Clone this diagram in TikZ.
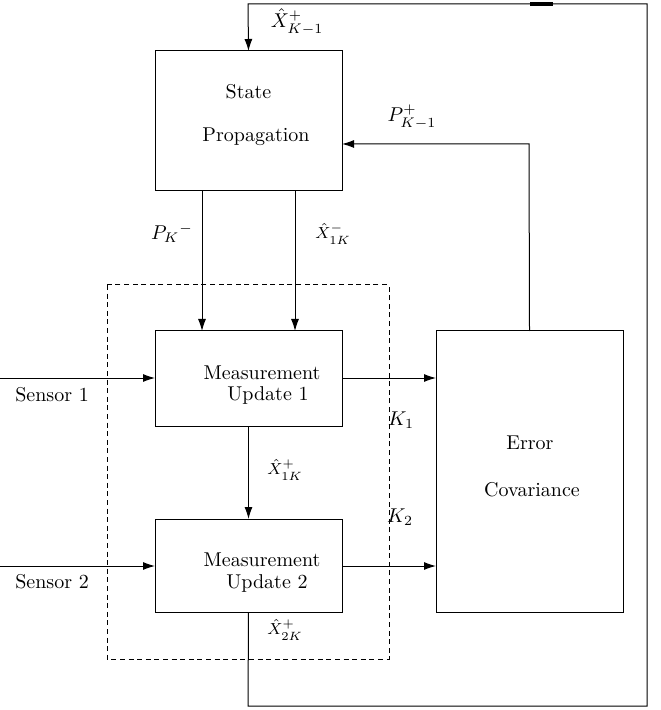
\documentclass[tikz,border=0pt]{standalone}
\usetikzlibrary{arrows.meta}
\begin{document}
\begin{tikzpicture}[x=0.5pt,y=-0.5pt,
  blk/.style={draw,line width=0.5pt,inner sep=0pt,outer sep=0pt,rectangle},
  arr/.style={line width=0.5pt,-{Latex[length=6pt,width=4pt]}},
  ln/.style={line width=0.5pt},
  lbl/.style={inner sep=0pt},
  small/.style={inner sep=0pt,font=\footnotesize}]
\useasboundingbox (0,0) rectangle (660,710);
% boxes
\node[blk,minimum width=93.5pt,minimum height=70pt] (SP) at (248.5,121) {};
\node[blk,minimum width=93.5pt,minimum height=47.5pt] (MU1) at (248.5,378.5) {};
\node[blk,minimum width=93.5pt,minimum height=46.5pt] (MU2) at (248.5,565.5) {};
\node[blk,minimum width=93.5pt,minimum height=140.5pt] (EC) at (529.5,471.5) {};
% dashed group
\draw[line width=0.5pt,dash pattern=on 2.5pt off 1.8pt] (107,285) rectangle (389,659);
% box texts
\node[lbl] (t1) at (248.5,92) {State};
\node[lbl] (t2) at (256,137) {Propagation};
\node[lbl] (t3) at (262,373) {Measurement};
\node[lbl] (t4) at (268,395) {Update 1};
\node[lbl] (t5) at (262,560) {Measurement};
\node[lbl] (t6) at (267,583) {Update 2};
\node[lbl] (t7) at (530,443) {Error};
\node[lbl] (t8) at (532,490) {Covariance};
% coordinates
\coordinate (s1) at (0,378);
\coordinate (s2) at (0,566);
\coordinate (bl) at (248,706);
\coordinate (br) at (647,706);
\coordinate (tr) at (647,4);
\coordinate (tl) at (248,4);
\coordinate (pc) at (529,144);
\coordinate (ta) at (530,4);
\coordinate (tb) at (553,4);
% connectors
\draw[arr] (s1) -- (s1 -| MU1.west);
\draw[arr] (s2) -- (s2 -| MU2.west);
\draw[arr] (MU1.east |- s1) -- (EC.west |- s1);
\draw[arr] (MU2.east |- s2) -- (EC.west |- s2);
\draw[arr] ([xshift=-23.25pt]SP.south) -- ([xshift=-23.25pt]MU1.north);
\draw[arr] ([xshift=23.25pt]SP.south) -- ([xshift=23.25pt]MU1.north);
\draw[arr] (MU1.south) -- (MU2.north);
\draw[arr] (MU2.south) -- (bl) -- (br) -- (tr) -- (tl) -- (SP.north);
\draw[arr] (EC.north) -- (pc) -- (pc -| SP.east);
\draw[line width=1.6pt] (ta) -- (tb);
% labels
\node[lbl] (lx) at (297,22) {$\hat{X}^{+}_{K-1}$};
\node[lbl] (lp) at (412,117) {$P^{+}_{K-1}$};
\node[lbl] (lpk) at (172,233) {$P_K{}^{-}$};
\node[small] (lx1) at (333,234) {$\hat{X}^{-}_{1K}$};
\node[small] (lx2) at (285,470) {$\hat{X}^{+}_{1K}$};
\node[small] (lx3) at (285,630) {$\hat{X}^{+}_{2K}$};
\node[lbl] (k1) at (401,420) {$K_1$};
\node[lbl] (k2) at (400,517) {$K_2$};
\node[lbl] (sn1) at (52,395) {Sensor 1};
\node[lbl] (sn2) at (52,582) {Sensor 2};
\end{tikzpicture}
\end{document}
